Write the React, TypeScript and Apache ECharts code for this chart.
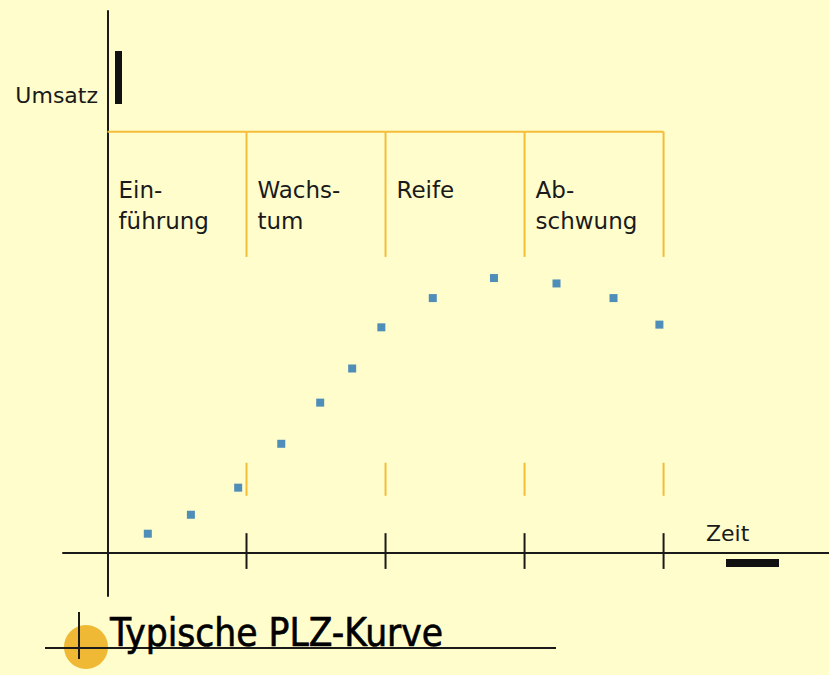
import React, { useEffect, useRef } from "react";
import * as echarts from "echarts";

// Data (Zeit, Umsatz)
const timeValues = [2.9, 6.0, 9.4, 12.5, 15.3, 17.6, 19.7, 23.4, 27.8, 32.3, 36.4, 39.7];
const salesValues = [3.5, 7.0, 12.0, 20.1, 27.7, 34.0, 41.6, 47.0, 50.7, 49.7, 47.0, 42.1];
const phaseNames = ["Ein-\nführung", "Wachs-\ntum", "Reife", "Ab-\nschwung"];
const phaseStarts = [0, 10, 20, 30];
const phaseEnds = [10, 20, 30, 40];

const BG = "#fffdcc";
const ORANGE = "#f3bd3a";
const INK = "#1a1a1a";
const FONT = '"DejaVu Sans", Verdana, sans-serif';

const BAND_TOP = 77.7;
const BAND_BOTTOM = 54.6;
const LOW_TOP = 16.6;
const LOW_BOTTOM = 10.5;
const TICK_TOP = 3.6;
const TICK_BOTTOM = -3.0;

export default function App() {
  const ref = useRef<HTMLDivElement>(null);
  useEffect(() => {
    if (!ref.current) return;
    const chart = echarts.init(ref.current, null, { renderer: "svg" });
    const points = timeValues.map((t, i) => [t, salesValues[i]]);
    const phases = phaseStarts.map((s, i) => [s, phaseEnds[i]]);
    chart.setOption({
      animation: false,
      backgroundColor: BG,
      grid: { left: 63, right: 0, top: 11, bottom: 79 },
      xAxis: {
        type: "value",
        min: -3.2,
        max: 51.9,
        axisLine: { show: true, onZero: true, lineStyle: { color: INK, width: 2 } },
        axisTick: { show: false },
        axisLabel: { show: false },
        splitLine: { show: false },
      },
      yAxis: {
        type: "value",
        min: -8,
        max: 100,
        axisLine: { show: true, onZero: true, lineStyle: { color: INK, width: 2 } },
        axisTick: { show: false },
        axisLabel: { show: false },
        splitLine: { show: false },
      },
      series: [
        {
          type: "custom",
          clip: false,
          silent: true,
          data: phases,
          renderItem: (params: any, api: any) => {
            const s = api.value(0);
            const e = api.value(1);
            const idx = params.dataIndex;
            const tl = api.coord([s, BAND_TOP]);
            const tr = api.coord([e, BAND_TOP]);
            const bb = api.coord([e, BAND_BOTTOM]);
            const lt = api.coord([e, LOW_TOP]);
            const lb = api.coord([e, LOW_BOTTOM]);
            const kt = api.coord([e, TICK_TOP]);
            const kb = api.coord([e, TICK_BOTTOM]);
            const orange = { stroke: ORANGE, lineWidth: 2 };
            return {
              type: "group",
              children: [
                { type: "line", shape: { x1: tl[0], y1: tl[1], x2: tr[0], y2: tr[1] }, style: orange },
                { type: "line", shape: { x1: tr[0], y1: tr[1], x2: bb[0], y2: bb[1] }, style: orange },
                { type: "line", shape: { x1: lt[0], y1: lt[1], x2: lb[0], y2: lb[1] }, style: orange },
                { type: "line", shape: { x1: kt[0], y1: kt[1], x2: kb[0], y2: kb[1] }, style: { stroke: INK, lineWidth: 2 } },
                {
                  type: "text",
                  x: tl[0] + 11,
                  y: tl[1] + 43,
                  style: {
                    text: phaseNames[idx],
                    fill: INK,
                    fontSize: 23,
                    fontFamily: FONT,
                    lineHeight: 31,
                    align: "left",
                    verticalAlign: "top",
                  },
                },
              ],
            };
          },
        },
        {
          type: "scatter",
          data: points,
          symbol: "rect",
          symbolSize: 8,
          itemStyle: { color: "#2272b3" },
        },
      ],
      graphic: [
        { type: "rect", shape: { x: 115, y: 51, width: 7, height: 53 }, style: { fill: "#111" } },
        {
          type: "text",
          x: 98,
          y: 95,
          style: { text: "Umsatz", fill: INK, fontSize: 22, fontFamily: FONT, align: "right", verticalAlign: "middle" },
        },
        {
          type: "text",
          x: 706,
          y: 533,
          style: { text: "Zeit", fill: INK, fontSize: 22, fontFamily: FONT, align: "left", verticalAlign: "middle" },
        },
        { type: "rect", shape: { x: 726, y: 559, width: 53, height: 8 }, style: { fill: "#111" } },
        { type: "circle", z: 1, shape: { cx: 86, cy: 647, r: 22 }, style: { fill: "#efb935" } },
        { type: "line", z: 2, shape: { x1: 45, y1: 648, x2: 556, y2: 648 }, style: { stroke: INK, lineWidth: 2 } },
        { type: "line", z: 2, shape: { x1: 79, y1: 612, x2: 79, y2: 659 }, style: { stroke: INK, lineWidth: 2 } },
        {
          type: "text",
          z: 3,
          x: 110,
          y: 632,
          style: {
            text: "Typische PLZ-Kurve",
            fill: "#000",
            stroke: "#000",
            lineWidth: 0.6,
            fontSize: 38.5,
            fontFamily: '"DejaVu Sans Condensed", "DejaVu Sans", sans-serif',
            align: "left",
            verticalAlign: "middle",
          },
        },
      ],
    });
    return () => chart.dispose();
  }, []);
  return (
    <div
      ref={ref}
      style={{ position: "fixed", left: 0, top: 0, width: 829, height: 675, background: BG }}
    />
  );
}
